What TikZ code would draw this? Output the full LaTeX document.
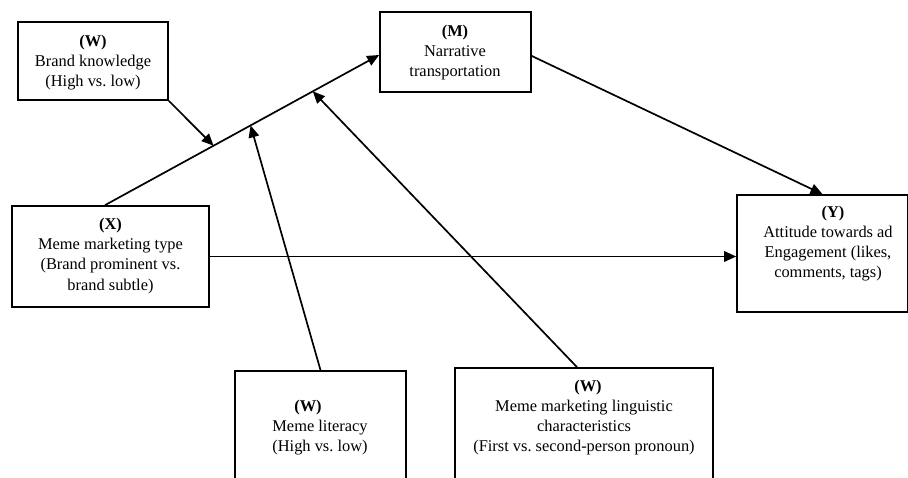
\documentclass[tikz,border=0pt]{standalone}
\usepackage{fontspec}
\setmainfont{Liberation Serif}
\usetikzlibrary{arrows.meta,calc}
\tikzset{
  box/.style={draw=black, line width=1.7pt, inner sep=0pt, fill=none},
  txt/.style={align=center, inner sep=0pt, font=\fontsize{16.4}{20}\selectfont},
  conn/.style={line width=1.7pt, -{Triangle[length=12pt,width=10.5pt]}}
}
\begin{document}
\begin{tikzpicture}[x=1pt,y=-1pt]
\useasboundingbox (0,0) rectangle (908,477);
\clip (0,0) rectangle (908,477);
% boxes
\node[box, minimum width=150pt, minimum height=78pt] (w1) at (93,61) {};
\node[box, minimum width=151pt, minimum height=80pt] (m) at (455.5,52) {};
\node[box, minimum width=197pt, minimum height=101pt] (x) at (110.5,256.5) {};
\node[box, minimum width=171pt, minimum height=117pt] (y) at (822.5,253.5) {};
\node[box, minimum width=171pt, minimum height=160pt] (w2) at (320.5,451) {};
\node[box, minimum width=258pt, minimum height=160pt] (w3) at (584,448) {};
% texts
\node[txt] (tw1) at (93,62.5) {\textbf{(W)}\\Brand knowledge\\(High vs.\ low)};
\node[txt] (tm) at (455,52.5) {\textbf{(M)}\\Narrative\\transportation};
\node[txt] (tx) at (110.5,256.5) {\textbf{(X)}\\Meme marketing type\\(Brand prominent vs.\\[1pt] brand subtle)};
\node[txt] (ty) at (828,243.5) {\hspace*{10pt}\textbf{(Y)}\\Attitude towards ad\\Engagement (likes,\\comments, tags)};
\node[txt] (tw2) at (320,427.5) {\textbf{(W)}\hspace*{24pt}\\Meme literacy\\(High vs.\ low)};
\node[txt] (tw3) at (584,417.5) {\hspace*{8pt}\textbf{(W)}\\Meme marketing linguistic\\characteristics\\(First vs.\ second-person pronoun)};
% main path X -> M
\coordinate (xs) at ([xshift=-5.5pt]x.north);
\coordinate (me) at ([yshift=-3pt]m.west);
\draw[conn] (xs) -- (me);
\path (xs) -- (me)
  coordinate[pos=0.396] (p1)
  coordinate[pos=0.531] (p2)
  coordinate[pos=0.758] (p3);
% moderators
\draw[conn] (w1.south east) -- (p1);
\draw[conn] (w2.north) -- (p2);
\draw[conn] ([xshift=-7pt]w3.north) -- (p3);
% M -> Y
\draw[conn] ([yshift=-4pt]m.east) -- (y.north);
% X -> Y
\draw[conn] (x.east) -- (x.east -| y.west);
\end{tikzpicture}
\end{document}
